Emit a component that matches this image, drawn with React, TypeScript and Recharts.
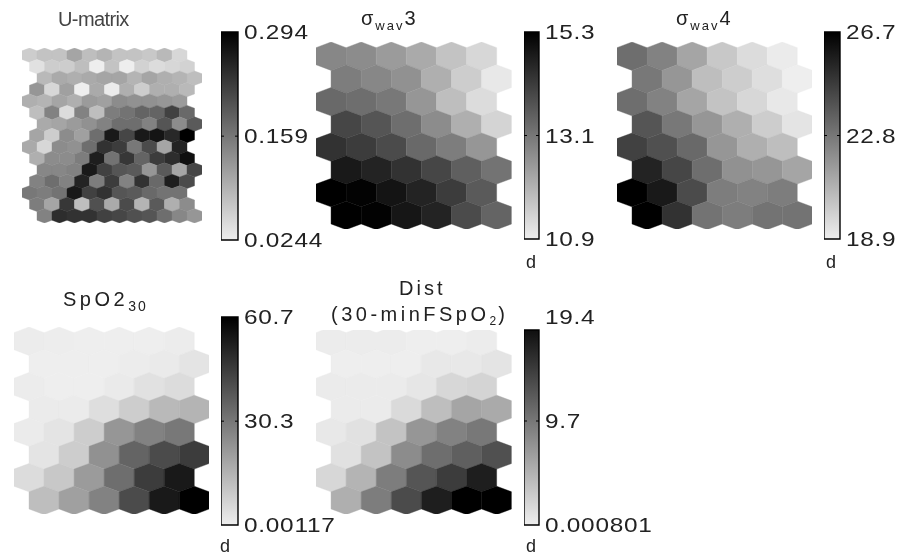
import { ScatterChart, Scatter, XAxis, YAxis, BarChart, Bar } from "recharts";

// U-matrix cells, 15 rows x 11 columns, row start shifts by half a cell
const uMatrixRows = [
  [0.062, 0.073, 0.073, 0.107, 0.079, 0.09, 0.073, 0.073, 0.067, 0.084, 0.05],
  [0.039, 0.062, 0.062, 0.079, 0.024, 0.073, 0.024, 0.056, 0.045, 0.05, 0.056],
  [0.084, 0.101, 0.096, 0.101, 0.107, 0.107, 0.09, 0.107, 0.096, 0.09, 0.079],
  [0.124, 0.05, 0.113, 0.024, 0.101, 0.028, 0.096, 0.062, 0.096, 0.096, 0.084],
  [0.096, 0.09, 0.107, 0.096, 0.118, 0.113, 0.135, 0.13, 0.13, 0.124, 0.118],
  [0.079, 0.147, 0.045, 0.147, 0.079, 0.152, 0.164, 0.181, 0.181, 0.22, 0.175],
  [0.101, 0.107, 0.118, 0.13, 0.147, 0.169, 0.169, 0.147, 0.198, 0.135, 0.192],
  [0.107, 0.062, 0.135, 0.113, 0.169, 0.266, 0.215, 0.266, 0.271, 0.249, 0.294],
  [0.101, 0.05, 0.135, 0.13, 0.169, 0.237, 0.226, 0.158, 0.209, 0.107, 0.254],
  [0.096, 0.135, 0.135, 0.152, 0.26, 0.164, 0.232, 0.181, 0.226, 0.243, 0.277],
  [0.141, 0.141, 0.147, 0.266, 0.22, 0.198, 0.192, 0.124, 0.192, 0.107, 0.215],
  [0.147, 0.169, 0.147, 0.254, 0.152, 0.226, 0.147, 0.237, 0.175, 0.26, 0.209],
  [0.158, 0.152, 0.164, 0.266, 0.22, 0.237, 0.198, 0.192, 0.175, 0.164, 0.164],
  [0.152, 0.107, 0.232, 0.079, 0.203, 0.101, 0.209, 0.09, 0.192, 0.096, 0.135],
  [0.147, 0.243, 0.237, 0.237, 0.22, 0.215, 0.203, 0.198, 0.169, 0.141, 0.124],
];
const uMatrixShift = [0, 0.5, 1, 0.5, 0, 0.5, 1, 0.5, 0, 0.5, 1, 0.5, 0, 0.5, 1];

const sigma3Rows = [
  [12.8, 12.71, 12.43, 12.16, 11.69, 11.32],
  [12.99, 12.8, 12.62, 12.06, 11.51, 11.01],
  [13.36, 13.27, 13.08, 12.53, 11.79, 11.23],
  [14.01, 13.73, 13.27, 12.71, 12.06, 11.38],
  [14.38, 14.19, 13.91, 13.36, 12.99, 12.53],
  [14.84, 14.65, 14.38, 14.01, 13.54, 13.17],
  [15.3, 15.24, 14.93, 14.65, 14.19, 13.64],
  [15.3, 15.26, 14.89, 14.65, 13.91, 13.45],
];

const sigma4Rows = [
  [23.1, 22.44, 21.29, 20.15, 19.49, 19.0],
  [22.77, 21.78, 20.47, 19.98, 19.42, 18.9],
  [23.1, 22.44, 21.29, 20.31, 19.65, 19.1],
  [23.91, 22.77, 21.78, 20.97, 19.98, 19.23],
  [24.57, 24.08, 23.26, 21.78, 20.97, 20.47],
  [25.55, 24.41, 23.1, 21.95, 21.78, 21.29],
  [26.7, 25.88, 24.24, 22.6, 22.44, 22.6],
  [26.7, 25.06, 22.93, 22.6, 22.93, 22.93],
];

const spo2Rows = [
  [0.5, 0.24, 0.01, 0.01, 0.01, 0.5],
  [0.01, 0.01, 0.01, 0.5, 1.0, 2.5],
  [0.5, 0.01, 0.01, 1.0, 3.3, 4.6],
  [0.75, 0.75, 4.1, 8.4, 13.5, 14.8],
  [0.75, 2.5, 8.4, 22.4, 27.5, 30.1],
  [2.5, 8.4, 23.7, 35.2, 41.6, 45.4],
  [4.6, 9.7, 21.2, 32.6, 45.4, 54.3],
  [12.2, 19.9, 27.5, 41.6, 54.3, 60.7],
];

const distRows = [
  [0.17, 0.17, 0.17, 0.001, 0.001, 0.17],
  [0.001, 0.001, 0.001, 0.49, 0.49, 0.82],
  [0.25, 0.25, 0.25, 0.66, 1.88, 2.12],
  [0.25, 0.25, 1.63, 3.92, 5.95, 5.55],
  [0.49, 1.06, 3.51, 7.18, 8.81, 9.62],
  [1.06, 3.51, 7.99, 10.44, 11.66, 12.88],
  [1.88, 4.73, 9.21, 12.47, 14.51, 16.96],
  [5.14, 9.21, 13.29, 16.96, 19.4, 19.4],
];
const somShift = [0, 0.5, 0, 0.5, 0, 0.5, 0, 0.5];

const FONT = "'Liberation Sans', Arial, sans-serif";
const INK = "#222";

function shade(v: number, min: number, max: number) {
  const t = Math.min(1, Math.max(0, (v - min) / (max - min)));
  const g = Math.round(238 * (1 - t));
  return `rgb(${g},${g},${g})`;
}

function HexMap({ rows, shifts, range, left, top, width, height, clipTop = 0 }: any) {
  const nCols = rows[0].length;
  const nRows = rows.length;
  const extent = nCols + Math.max(...shifts);
  const halfW = width / extent / 2;
  // cell height vs. row pitch, the cells are a bit squashed in the source plot
  const over = 0.624;
  const pitch = height / (nRows - 1 + 2 * over);
  const R = pitch * over;
  const sh = pitch - R;
  const points = rows.flatMap((r: number[], row: number) =>
    r.map((value, i) => ({ col: i + 0.5 + shifts[row], row, value }))
  );
  const hex = (p: any) => {
    const { cx, cy, payload } = p;
    const d = `M${cx},${cy - R}L${cx + halfW},${cy - sh}L${cx + halfW},${cy + sh}L${cx},${cy + R}L${cx - halfW},${cy + sh}L${cx - halfW},${cy - sh}Z`;
    const c = shade(payload.value, range[0], range[1]);
    return <path d={d} fill={c} stroke={c} strokeWidth={0.4} />;
  };
  return (
    <div style={{ position: "absolute", left, top: top + clipTop, width, height: height - clipTop, overflow: "hidden" }}>
      <div style={{ position: "absolute", left: 0, top: -clipTop }}>
        <ScatterChart width={width} height={height} margin={{ left: 0, right: 0, top: 0, bottom: 0 }}>
          <XAxis type="number" dataKey="col" domain={[0, extent]} hide allowDataOverflow />
          <YAxis type="number" dataKey="row" domain={[-over, nRows - 1 + over]} reversed hide allowDataOverflow />
          <Scatter data={points} shape={hex} isAnimationActive={false} />
        </ScatterChart>
      </div>
    </div>
  );
}

function ColorBar({ id, ticks, labels, left, top, barWidth, height, barTop, topColor = "#000" }: any) {
  const pad = 14;
  const labelSpace = 115;
  const range = [ticks[0], ticks[2]];
  // the Dist bar is cut off under its title, so barTop can end it early
  const data = [{ name: "bar", band: [ticks[0], barTop ?? ticks[2]] }];
  const tick = (p: any) => {
    const x = p.x;
    const y = p.y;
    const isMid = p.index === 1;
    return (
      <g>
        {isMid && <line x1={x - barWidth} x2={x - barWidth + 3} y1={y} y2={y} stroke="#000" />}
        {isMid && <line x1={x - 3} x2={x} y1={y} y2={y} stroke="#000" />}
        {/* source labels are stretched sideways */}
        <text
          transform={`translate(${x + 6},${y + 7}) scale(1.22,1)`}
          fontFamily={FONT}
          fontSize={20}
          letterSpacing={0.6}
          fill={INK}
        >
          {labels[p.index]}
        </text>
      </g>
    );
  };
  return (
    <div style={{ position: "absolute", left, top: top - pad }}>
      <BarChart
        width={barWidth + labelSpace}
        height={height + 2 * pad}
        data={data}
        barCategoryGap={0}
        margin={{ left: 0, right: 0, top: pad, bottom: pad }}
      >
        <defs>
          <linearGradient id={id} x1="0" y1="0" x2="0" y2="1">
            <stop offset="0%" stopColor={topColor} />
            <stop offset="100%" stopColor="#eeeeee" />
          </linearGradient>
        </defs>
        <XAxis dataKey="name" hide />
        <YAxis
          orientation="right"
          width={labelSpace}
          domain={range}
          ticks={ticks}
          interval={0}
          axisLine={false}
          tickLine={false}
          tickSize={0}
          tickMargin={0}
          tick={tick}
        />
        <Bar dataKey="band" fill={`url(#${id})`} stroke="#000" strokeWidth={1.4} isAnimationActive={false} />
      </BarChart>
    </div>
  );
}

function Title({ left, top, children, spacing = 0.5, color = INK, lineHeight = 24, size = 20 }: any) {
  return (
    <div
      style={{
        position: "absolute",
        left,
        top,
        fontFamily: FONT,
        fontSize: size,
        lineHeight: `${lineHeight}px`,
        letterSpacing: spacing,
        whiteSpace: "nowrap",
        color,
      }}
    >
      {children}
    </div>
  );
}

const Sub = ({ children, size = 13, drop = 5 }: any) => (
  <span style={{ fontSize: size, position: "relative", top: drop, letterSpacing: 2 }}>{children}</span>
);

function DLabel({ left, top }: any) {
  return <Title left={left} top={top} lineHeight={18} size={18}>d</Title>;
}

export default function App() {
  return (
    <div
      style={{
        position: "absolute",
        left: 0,
        top: 0,
        width: 903,
        height: 557,
        background: "#fff",
        overflow: "hidden",
        filter: "blur(0.5px)",
      }}
    >
      <HexMap rows={uMatrixRows} shifts={uMatrixShift} range={[0.0244, 0.294]} left={21.7} top={47.7} width={180} height={175} />
      <HexMap rows={sigma3Rows} shifts={somShift} range={[10.9, 15.3]} left={316} top={41.7} width={195.7} height={187.6} />
      <HexMap rows={sigma4Rows} shifts={somShift} range={[18.9, 26.7]} left={616.7} top={41.7} width={195.3} height={187.6} />
      <HexMap rows={spo2Rows} shifts={somShift} range={[0.00117, 60.7]} left={14} top={326.7} width={195.3} height={187.6} />
      <HexMap rows={distRows} shifts={somShift} range={[0.000801, 19.4]} left={316} top={326.7} width={195.7} height={187.6} clipTop={3.3} />

      <ColorBar id="cbU" ticks={[0.0244, 0.159, 0.294]} labels={["0.0244", "0.159", "0.294"]} left={221} top={32} barWidth={17} height={208} />
      <ColorBar id="cbS3" ticks={[10.9, 13.1, 15.3]} labels={["10.9", "13.1", "15.3"]} left={523.5} top={32} barWidth={15} height={207} />
      <ColorBar id="cbS4" ticks={[18.9, 22.8, 26.7]} labels={["18.9", "22.8", "26.7"]} left={823.5} top={32} barWidth={16} height={207} />
      <ColorBar id="cbSp" ticks={[0.00117, 30.3, 60.7]} labels={["0.00117", "30.3", "60.7"]} left={221} top={317} barWidth={17} height={208} />
      <ColorBar id="cbD" ticks={[0.000801, 9.7, 19.4]} labels={["0.000801", "9.7", "19.4"]} left={523.5} top={317} barWidth={15} height={208} barTop={18.19} topColor="#0f0f0f" />

      <Title left={58} top={7} color="#444" spacing={-0.6}>U-matrix</Title>
      <Title left={361} top={6} spacing={2}>
        σ<Sub>wav</Sub>3
      </Title>
      <Title left={676} top={6} spacing={2}>
        σ<Sub>wav</Sub>4
      </Title>
      <Title left={63} top={287} spacing={3.5}>
        SpO2<Sub size={14}>30</Sub>
      </Title>
      <Title left={399} top={276} spacing={3}>Dist</Title>
      <Title left={331} top={302} spacing={3.5}>
        (30-minFSpO<Sub size={12} drop={4}>2</Sub>)
      </Title>

      <DLabel left={526} top={253} />
      <DLabel left={826} top={253} />
      <DLabel left={220} top={537} />
      <DLabel left={526} top={537} />
    </div>
  );
}
